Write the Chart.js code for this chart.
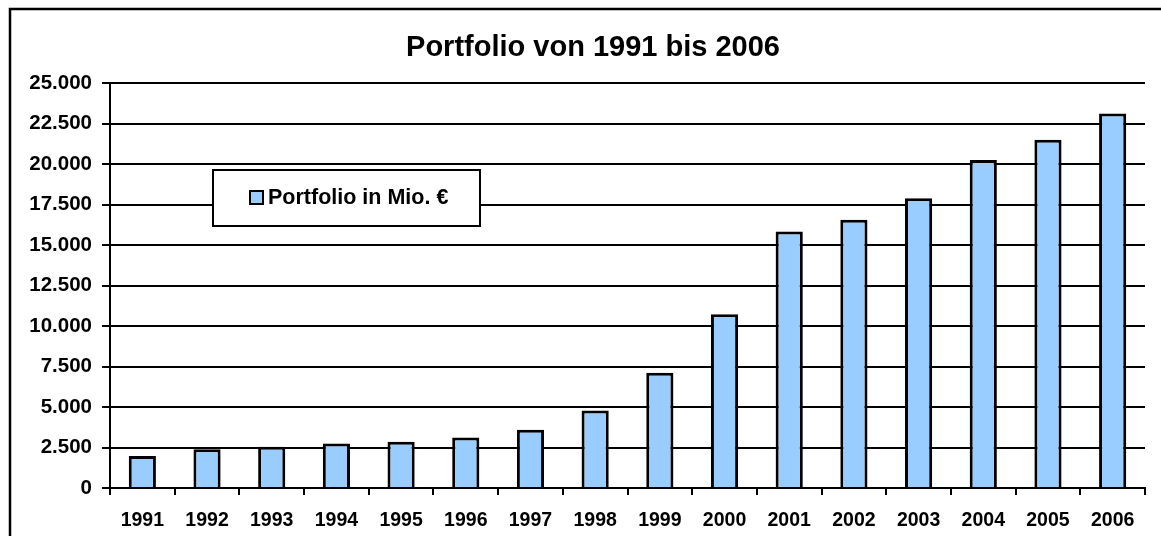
<!DOCTYPE html>
<html>
<head>
<meta charset="utf-8">
<title>Portfolio von 1991 bis 2006</title>
<script src="https://cdn.jsdelivr.net/npm/chart.js@4"></script>
<style>
  html, body { margin: 0; padding: 0; background: #fff; }
  #wrap { width: 1161px; height: 536px; }
</style>
</head>
<body>
<div id="wrap"><canvas id="graphique" width="1161" height="536"></canvas></div>
<script>
// Daten
var jahre = ["1991", "1992", "1993", "1994", "1995", "1996", "1997", "1998",
             "1999", "2000", "2001", "2002", "2003", "2004", "2005", "2006"];
var portfolio = [1975, 2390, 2550, 2740, 2860, 3110, 3600, 4790,
                 7110, 10720, 15830, 16560, 17880, 20250, 21490, 23120];
var titel = "Portfolio von 1991 bis 2006";
var serieName = "Portfolio in Mio. €";
var yMax = 25000;
var yStep = 2500;

Chart.defaults.font.family = "'Liberation Sans', Arial, sans-serif";
Chart.defaults.font.weight = "bold";
Chart.defaults.color = "#000";

// Zahl mit Punkt als Tausendertrenner
function formatZahl(v) {
  var s = String(Math.round(v));
  var out = "";
  while (s.length > 3) {
    out = "." + s.slice(-3) + out;
    s = s.slice(0, -3);
  }
  return s + out;
}

// Rahmen, Titel und Legende wie im Excel-Diagramm
var excelDeko = {
  id: "excelDeko",
  beforeDraw: function(chart) {
    var c = chart.ctx;
    c.save();
    c.fillStyle = "#fff";
    c.fillRect(0, 0, chart.width, chart.height);
    c.strokeStyle = "#000";
    c.lineWidth = 2.5;
    c.beginPath();
    c.moveTo(10, chart.height + 5);
    c.lineTo(10, 9);
    c.lineTo(chart.width + 5, 9);
    c.stroke();

    c.font = "bold 29px 'Liberation Sans', Arial, sans-serif";
    c.textAlign = "center";
    c.textBaseline = "middle";
    c.fillStyle = "#000";
    c.fillText(titel, 593, 48);
    c.restore();
  },
  afterDraw: function(chart) {
    var c = chart.ctx;
    var ds = chart.data.datasets[0];
    c.save();
    c.fillStyle = "#fff";
    c.fillRect(213, 170, 267, 56);
    c.strokeStyle = "#000";
    c.lineWidth = 2;
    c.strokeRect(213, 170, 267, 56);

    c.fillStyle = ds.backgroundColor;
    c.fillRect(250, 191, 13, 13);
    c.lineWidth = 2;
    c.strokeRect(250, 191, 13, 13);

    c.font = "bold 21.5px 'Liberation Sans', Arial, sans-serif";
    c.textAlign = "left";
    c.textBaseline = "middle";
    c.fillStyle = "#000";
    c.fillText(ds.label, 268, 198);
    c.restore();
  }
};

var ctx = document.getElementById("graphique").getContext("2d");

var chart = new Chart(ctx, {
  type: "bar",
  data: {
    labels: jahre,
    datasets: [{
      label: serieName,
      data: portfolio,
      backgroundColor: "#99CCFF",
      borderColor: "#000",
      borderWidth: 3,
      barPercentage: 0.42,
      categoryPercentage: 1.0
    }]
  },
  options: {
    responsive: false,
    animation: false,
    layout: {
      padding: { left: 12, right: 16, top: 83, bottom: 0 }
    },
    plugins: {
      legend: { display: false },
      title: { display: false },
      tooltip: { enabled: false }
    },
    scales: {
      x: {
        offset: true,
        afterFit: function(scale) { scale.height = 48; },
        grid: {
          offset: true,
          drawOnChartArea: false,
          drawTicks: true,
          tickLength: 7,
          color: "#000",
          lineWidth: 2
        },
        border: { display: true, color: "#000", width: 2 },
        ticks: {
          font: { size: 19.5, weight: "bold" },
          color: "#000",
          padding: 14,
          maxRotation: 0,
          autoSkip: false
        }
      },
      y: {
        min: 0,
        max: yMax,
        afterFit: function(scale) { scale.width = 98; },
        grid: {
          color: "#000",
          lineWidth: 2,
          drawTicks: true,
          tickLength: 8
        },
        border: { display: true, color: "#000", width: 2 },
        ticks: {
          stepSize: yStep,
          font: { size: 20.5, weight: "bold" },
          color: "#000",
          padding: 10,
          callback: function(v) { return formatZahl(v); }
        }
      }
    }
  },
  plugins: [excelDeko]
});
</script>
</body>
</html>
